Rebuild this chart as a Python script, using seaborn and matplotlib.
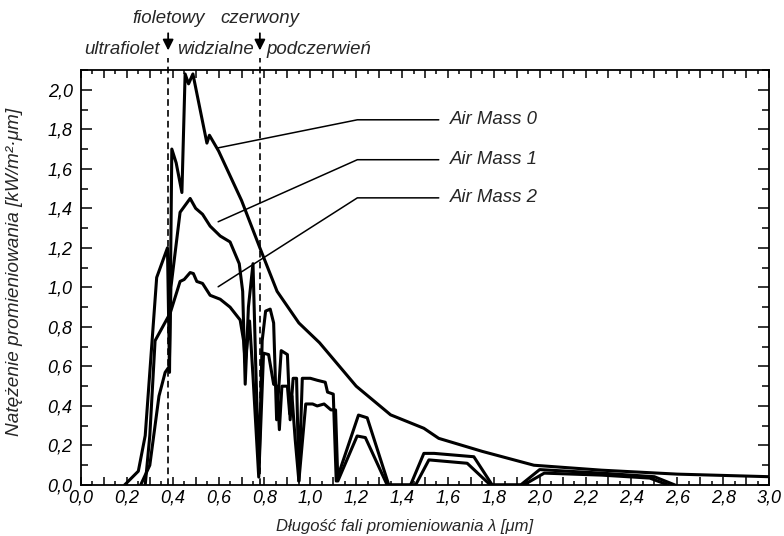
import numpy as np
import pandas as pd
import matplotlib
matplotlib.use("Agg")
import matplotlib.pyplot as plt
from matplotlib.ticker import MultipleLocator, FuncFormatter
import seaborn as sns

# ---- data ----
am0_x = [0.19, 0.25, 0.28, 0.33, 0.377, 0.386, 0.396, 0.415, 0.44, 0.454, 0.469, 0.488,
         0.549, 0.56, 0.60, 0.70, 0.78, 0.855, 0.95, 1.04, 1.20, 1.35, 1.495, 1.56,
         1.75, 1.975, 2.27, 2.6, 3.0]
am0_y = [0.0, 0.07, 0.25, 1.05, 1.20, 0.57, 1.70, 1.63, 1.48, 2.08, 2.03, 2.08,
         1.73, 1.77, 1.69, 1.44, 1.20, 0.98, 0.82, 0.72, 0.50, 0.355, 0.287, 0.236,
         0.17, 0.10, 0.075, 0.055, 0.042]

am1_x = [0.26, 0.30, 0.34, 0.367, 0.385, 0.392, 0.432, 0.476, 0.50, 0.53, 0.563, 0.607,
         0.65, 0.69, 0.705, 0.716, 0.73, 0.75, 0.762, 0.776, 0.79, 0.805, 0.825, 0.84,
         0.853, 0.873, 0.90, 0.912, 0.925, 0.94, 0.95, 0.965, 1.0, 1.03, 1.065, 1.075,
         1.10, 1.113, 1.21, 1.248, 1.342, 1.437, 1.495, 1.54, 1.713, 1.793, 1.917,
         2.0, 2.27, 2.5, 2.59]
am1_y = [0.0, 0.10, 0.45, 0.57, 0.60, 1.00, 1.38, 1.45, 1.40, 1.37, 1.31, 1.26,
         1.23, 1.12, 0.98, 0.51, 0.90, 1.12, 0.60, 0.07, 0.73, 0.88, 0.89, 0.82,
         0.33, 0.68, 0.66, 0.33, 0.54, 0.54, 0.02, 0.54, 0.54, 0.53, 0.52, 0.47,
         0.46, 0.02, 0.354, 0.34, 0.0, 0.0, 0.16, 0.16, 0.143, 0.0, 0.0,
         0.078, 0.06, 0.042, 0.0]

am2_x = [0.28, 0.30, 0.323, 0.389, 0.432, 0.45, 0.476, 0.49, 0.505, 0.53, 0.563, 0.607,
         0.65, 0.694, 0.709, 0.716, 0.735, 0.75, 0.775, 0.796, 0.818, 0.84, 0.855,
         0.865, 0.876, 0.90, 0.91, 0.92, 0.934, 0.95, 0.98, 1.01, 1.03, 1.06, 1.09,
         1.11, 1.12, 1.204, 1.24, 1.335, 1.459, 1.517, 1.684, 1.785, 1.93, 2.02,
         2.27, 2.48, 2.56]
am2_y = [0.0, 0.25, 0.73, 0.87, 1.03, 1.04, 1.075, 1.07, 1.03, 1.02, 0.96, 0.94,
         0.90, 0.835, 0.73, 0.62, 0.83, 0.55, 0.04, 0.667, 0.66, 0.51, 0.50,
         0.28, 0.50, 0.50, 0.36, 0.45, 0.23, 0.02, 0.41, 0.41, 0.40, 0.41, 0.38,
         0.38, 0.02, 0.248, 0.24, 0.0, 0.0, 0.127, 0.11, 0.0, 0.0, 0.06,
         0.05, 0.035, 0.0]

series_names = ["Air Mass 0", "Air Mass 1", "Air Mass 2"]
label_y = [1.848, 1.646, 1.453]
pointer_y = [1.706, 1.332, 1.003]

band_edges = [0.38, 0.78]
band_edge_names = ["fioletowy", "czerwony"]
band_names = ["ultrafiolet", "widzialne", "podczerwień"]

x_title = "Długość fali promieniowania λ [μm]"
y_title = "Natężenie promieniowania [kW/m²·μm]"

df = pd.concat([
    pd.DataFrame({"x": am0_x, "y": am0_y, "s": series_names[0]}),
    pd.DataFrame({"x": am1_x, "y": am1_y, "s": series_names[1]}),
    pd.DataFrame({"x": am2_x, "y": am2_y, "s": series_names[2]}),
], ignore_index=True)

# ---- style ----
sns.set_theme(style="ticks")
plt.rcParams["font.family"] = ["Liberation Sans", "DejaVu Sans"]
plt.rcParams["font.style"] = "italic"
plt.rcParams["axes.linewidth"] = 1.3

W, H = 784, 536
fig = plt.figure(figsize=(W / 100, H / 100), dpi=100)
ax = fig.add_axes([81 / W, 51 / H, 688 / W, 415 / H])

sns.lineplot(data=df, x="x", y="y", hue="s", palette=["black"] * 3, sort=False,
             estimator=None, legend=False, linewidth=2.2, ax=ax)

ax.set_xlim(0, 3.0)
ax.set_ylim(0, 2.10)

# dashed band edges, extended above the axes
for xe in band_edges:
    ax.plot([xe, xe], [0, 2.16], color="black", lw=1.2, ls=(0, (4, 2.5)), clip_on=False)

# arrows and top labels
for xe, nm in zip(band_edges, band_edge_names):
    ax.annotate("", xy=(xe, 2.185), xytext=(xe, 2.30), annotation_clip=False,
                arrowprops=dict(arrowstyle="-|>", color="black", lw=1.3, mutation_scale=16))
    ax.text(xe, 2.36, nm, ha="center", va="center", fontsize=13.4, clip_on=False)

ax.text(0.345, 2.205, band_names[0], ha="right", va="center", fontsize=13.4)
ax.text(0.42, 2.205, band_names[1], ha="left", va="center", fontsize=13.4)
ax.text(0.81, 2.205, band_names[2], ha="left", va="center", fontsize=13.4)

# series labels with leader lines
for nm, ly, py in zip(series_names, label_y, pointer_y):
    ax.plot([0.598, 1.205, 1.56], [py, ly, ly], color="black", lw=1.1)
    ax.text(1.607, ly, nm, ha="left", va="center", fontsize=13.4)

# ticks
ax.xaxis.set_major_locator(MultipleLocator(0.1))
ax.xaxis.set_minor_locator(MultipleLocator(0.05))
ax.yaxis.set_major_locator(MultipleLocator(0.2))
ax.yaxis.set_minor_locator(MultipleLocator(0.1))

def xfmt(v, pos):
    k = int(round(v * 10))
    return f"{v:.1f}".replace(".", ",") if k % 2 == 0 else ""

ax.xaxis.set_major_formatter(FuncFormatter(xfmt))
ax.yaxis.set_major_formatter(FuncFormatter(lambda v, p: f"{v:.1f}".replace(".", ",")))
ax.tick_params(which="both", direction="in", top=True, right=True, width=1.1,
               labelsize=13, colors="black")
ax.tick_params(axis="x", which="major", length=6, pad=3)
ax.tick_params(axis="x", which="minor", length=3)
ax.tick_params(axis="y", which="major", length=8, pad=6)
ax.tick_params(axis="y", which="minor", length=5)

ax.set_xlabel("")
ax.set_ylabel("")
fig.text(405 / W, 1 - 527 / H, x_title, ha="center", va="center", fontsize=12)
fig.text(15 / W, 1 - 272 / H, y_title, ha="center", va="center", rotation=90, fontsize=13.7)

for sp in ax.spines.values():
    sp.set_color("black")

fig.savefig("out.png", dpi=100)
